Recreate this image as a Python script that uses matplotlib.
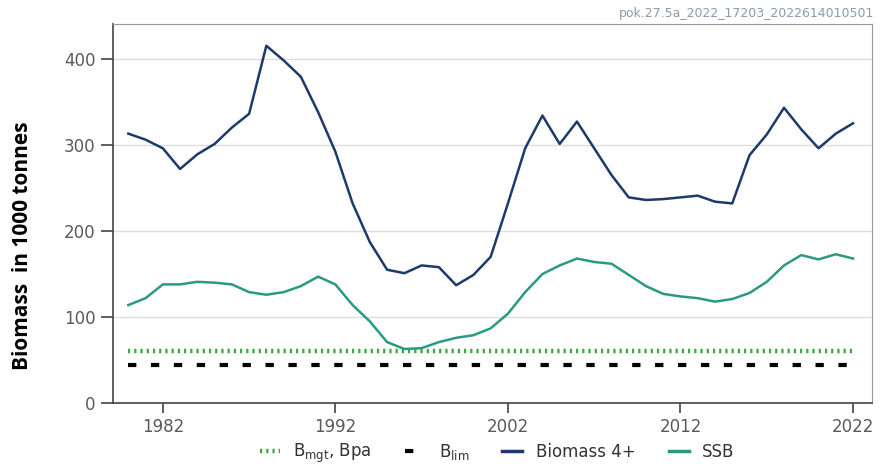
import matplotlib
matplotlib.use("Agg")
import matplotlib.pyplot as plt
from matplotlib.lines import Line2D

# ---- data ----
years = list(range(1980, 2023))
biomass4 = [313, 306, 296, 272, 289, 301, 320, 336, 415, 398, 379, 338, 292, 232,
            187, 155, 151, 160, 158, 137, 149, 170, 232, 296, 334, 301, 327, 296,
            265, 239, 236, 237, 239, 241, 234, 232, 288, 312, 343, 318, 296, 313, 325]
ssb = [114, 122, 138, 138, 141, 140, 138, 129, 126, 129, 136, 147, 138, 114,
       95, 71, 63, 64, 71, 76, 79, 87, 104, 129, 150, 160, 168, 164,
       162, 149, 136, 127, 124, 122, 118, 121, 128, 141, 160, 172, 167, 173, 168]
b_mgt = 61
b_lim = 44.5
xticks = [1982, 1992, 2002, 2012, 2022]
yticks = [0, 100, 200, 300, 400]

navy = "#1d3a6b"
teal = "#2b9a82"
green = "#3aa83a"
grey_txt = "#5a5a5a"

fig = plt.figure(figsize=(8.88, 4.75), dpi=100)
ax = fig.add_axes([0.127, 0.151, 0.855, 0.798])

ax.plot(years, [b_mgt] * len(years), color=green, lw=3.2, dashes=(0.5, 0.9))
ax.plot(years, [b_lim] * len(years), color="black", lw=3.0, dashes=(2.0, 3.5))
ax.plot(years, biomass4, color=navy, lw=1.8)
ax.plot(years, ssb, color=teal, lw=1.8)

ax.set_xlim(1979.1, 2023.1)
ax.set_ylim(0, 440)
ax.set_xticks(xticks)
ax.set_yticks(yticks)
ax.yaxis.grid(True, color="#dddddd", lw=1)
ax.set_axisbelow(True)

for s in ["left", "bottom"]:
    ax.spines[s].set_color("#444444")
    ax.spines[s].set_linewidth(1.2)
for s in ["top", "right"]:
    ax.spines[s].set_color("#999999")
    ax.spines[s].set_linewidth(0.8)

ax.tick_params(axis="both", direction="out", length=7, width=1.2,
               color="#444444", labelcolor=grey_txt, labelsize=12)
ax.tick_params(axis="y", length=9)

ax.set_ylabel("Biomass  in 1000 tonnes", fontsize=15, fontweight="bold",
              color="black", family=["Open Sans", "DejaVu Sans"])
ax.yaxis.set_label_coords(-0.105, 0.415)

fig.text(0.985, 0.985, "pok.27.5a_2022_17203_2022614010501", ha="right", va="top",
         fontsize=9, color="#8a9bb0")

handles = [
    Line2D([], [], color=green, lw=3.2, dashes=(0.5, 0.9)),
    Line2D([], [], color="black", lw=3.0, dashes=(2.0, 3.5)),
    Line2D([], [], color=navy, lw=2.5),
    Line2D([], [], color=teal, lw=2.5),
]
labels = [r"B$_{\mathrm{mgt}}$, Bpa", r"B$_{\mathrm{lim}}$", "Biomass 4+", "SSB"]
fig.legend(handles, labels, loc="lower center", bbox_to_anchor=(0.56, -0.01),
           ncol=4, frameon=False, fontsize=12, handlelength=1.2,
           columnspacing=2.0, labelcolor="#333333")

fig.savefig("out.png", dpi=100)
